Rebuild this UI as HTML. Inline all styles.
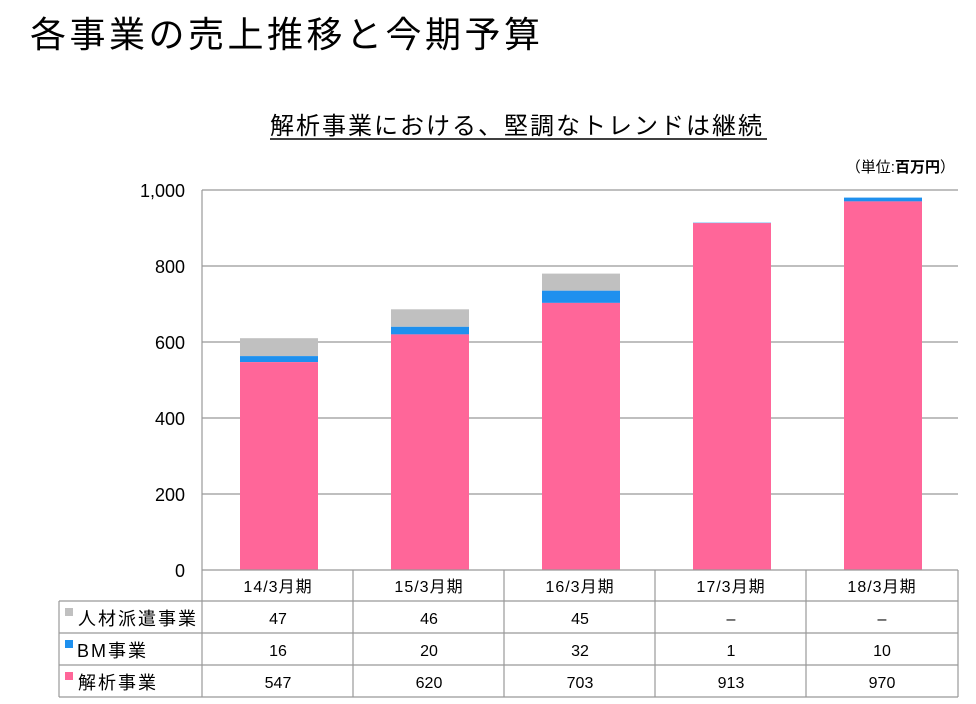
<!DOCTYPE html><html><head><meta charset="utf-8"><style>body{margin:0;background:#fff}svg{display:block}text{font-family:"Liberation Sans","Noto Sans CJK JP",sans-serif}</style></head><body>
<svg width="976" height="704" xmlns="http://www.w3.org/2000/svg">
<text x="30" y="47" font-size="36" letter-spacing="3.5" fill="#000">各事業の売上推移と今期予算</text>
<text x="270" y="134" font-size="24" letter-spacing="2" fill="#000">解析事業における、堅調なトレンドは継続</text>
<line x1="270" y1="139" x2="767" y2="139" stroke="#000" stroke-width="1.5"/>
<text x="955" y="172" font-size="15" text-anchor="end">（単位:<tspan font-weight="bold">百万円</tspan>）</text>
<g stroke="#999" stroke-width="1.2">
<line x1="202" y1="190" x2="958" y2="190"/><line x1="202" y1="266" x2="958" y2="266"/><line x1="202" y1="342" x2="958" y2="342"/><line x1="202" y1="418" x2="958" y2="418"/><line x1="202" y1="494" x2="958" y2="494"/>
</g>
<g font-size="18" text-anchor="end"><text x="185" y="197">1,000</text><text x="185" y="273">800</text><text x="185" y="349">600</text><text x="185" y="425">400</text><text x="185" y="501">200</text><text x="185" y="577">0</text></g>
<g>
<rect x="240" y="338.2" width="78" height="17.9" fill="#c0c0c0"/><rect x="240" y="356.1" width="78" height="6" fill="#1e90ee"/><rect x="240" y="362.1" width="78" height="207.9" fill="#ff6699"/>
<rect x="391" y="309.3" width="78" height="17.5" fill="#c0c0c0"/><rect x="391" y="326.8" width="78" height="7.6" fill="#1e90ee"/><rect x="391" y="334.4" width="78" height="235.6" fill="#ff6699"/>
<rect x="542" y="273.6" width="78" height="17.1" fill="#c0c0c0"/><rect x="542" y="290.7" width="78" height="12.2" fill="#1e90ee"/><rect x="542" y="302.9" width="78" height="267.1" fill="#ff6699"/>
<rect x="693" y="222.7" width="78" height="0.6" fill="#1e90ee"/><rect x="693" y="223.1" width="78" height="346.9" fill="#ff6699"/>
<rect x="844" y="197.6" width="78" height="3.8" fill="#1e90ee"/><rect x="844" y="201.4" width="78" height="368.6" fill="#ff6699"/>
</g>
<g stroke="#999" stroke-width="1.2" fill="none">
<line x1="202" y1="190" x2="202" y2="697"/>
<line x1="202" y1="570" x2="958" y2="570"/>
<line x1="59" y1="601" x2="958" y2="601"/><line x1="59" y1="633" x2="958" y2="633"/><line x1="59" y1="665" x2="958" y2="665"/><line x1="59" y1="697" x2="958" y2="697"/>
<line x1="59" y1="601" x2="59" y2="697"/>
<line x1="353" y1="570" x2="353" y2="697"/><line x1="504" y1="570" x2="504" y2="697"/><line x1="655" y1="570" x2="655" y2="697"/><line x1="806" y1="570" x2="806" y2="697"/><line x1="958" y1="570" x2="958" y2="697"/>
</g>
<g font-size="16" text-anchor="middle">
<g letter-spacing="1"><text x="278" y="592">14/3月期</text><text x="429" y="592">15/3月期</text><text x="580" y="592">16/3月期</text><text x="731" y="592">17/3月期</text><text x="882" y="592">18/3月期</text></g>
<text x="278" y="624">47</text><text x="429" y="624">46</text><text x="580" y="624">45</text><text x="731" y="624">–</text><text x="882" y="624">–</text>
<text x="278" y="656">16</text><text x="429" y="656">20</text><text x="580" y="656">32</text><text x="731" y="656">1</text><text x="882" y="656">10</text>
<text x="278" y="688">547</text><text x="429" y="688">620</text><text x="580" y="688">703</text><text x="731" y="688">913</text><text x="882" y="688">970</text>
</g>
<rect x="65" y="608" width="8" height="8" fill="#c0c0c0"/><rect x="65" y="640" width="8" height="8" fill="#1e90ee"/><rect x="65" y="672" width="8" height="8" fill="#ff6699"/>
<g font-size="18" letter-spacing="2"><text x="78" y="625">人材派遣事業</text><text x="77" y="657">BM事業</text><text x="78" y="689">解析事業</text></g>
</svg></body></html>
